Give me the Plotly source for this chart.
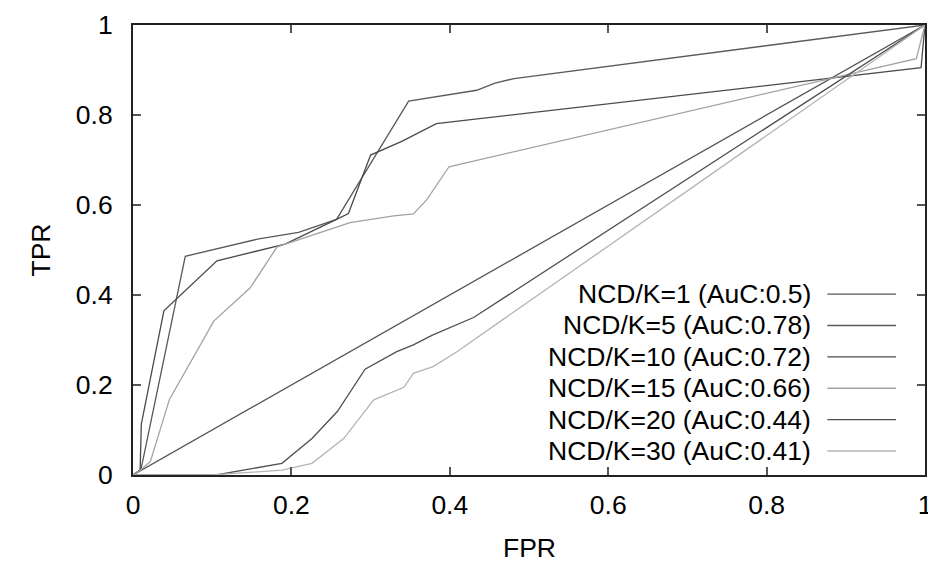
import plotly.graph_objects as go

# ---- data ----
names = ["NCD/K=1 (AuC:0.5)", "NCD/K=5 (AuC:0.78)", "NCD/K=10 (AuC:0.72)",
         "NCD/K=15 (AuC:0.66)", "NCD/K=20 (AuC:0.44)", "NCD/K=30 (AuC:0.41)"]

k1_x = [0, 1]
k1_y = [0, 1]

k5_x = [0, 0.01, 0.066, 0.157, 0.209, 0.257, 0.348, 0.434, 0.457, 0.481, 1]
k5_y = [0, 0.012, 0.486, 0.524, 0.539, 0.568, 0.831, 0.855, 0.871, 0.881, 1]

k10_x = [0, 0.009, 0.0105, 0.039, 0.106, 0.192, 0.257, 0.272, 0.300, 0.340, 0.383, 0.995, 1]
k10_y = [0, 0.011, 0.113, 0.365, 0.476, 0.513, 0.568, 0.581, 0.711, 0.742, 0.781, 0.905, 1]

k15_x = [0, 0.009, 0.022, 0.046, 0.102, 0.148, 0.182, 0.274, 0.329, 0.354, 0.371, 0.399, 0.989, 1]
k15_y = [0, 0.010, 0.030, 0.168, 0.342, 0.416, 0.507, 0.561, 0.576, 0.580, 0.612, 0.685, 0.925, 1]

k20_x = [0, 0.105, 0.188, 0.226, 0.258, 0.293, 0.333, 0.354, 0.378, 0.430, 1]
k20_y = [0, 0.0, 0.026, 0.081, 0.141, 0.235, 0.274, 0.289, 0.311, 0.350, 1]

k30_x = [0, 0.100, 0.188, 0.226, 0.266, 0.304, 0.342, 0.354, 0.379, 0.409, 1]
k30_y = [0, 0.0, 0.011, 0.026, 0.081, 0.167, 0.195, 0.226, 0.241, 0.274, 1]

tick_vals = [0, 0.2, 0.4, 0.6, 0.8, 1]
tick_text = ["0", "0.2", "0.4", "0.6", "0.8", "1"]

# ---- styling ----
colors = ["#555555", "#595959", "#4a4a4a", "#a2a2a2", "#505050", "#b4b4b4"]
FONT = "Liberation Sans, Arial, sans-serif"
FS = 26.5

series = [(k1_x, k1_y), (k5_x, k5_y), (k10_x, k10_y),
          (k15_x, k15_y), (k20_x, k20_y), (k30_x, k30_y)]

fig = go.Figure()
for (xs, ys), nm, c in zip(series, names, colors):
    fig.add_trace(go.Scatter(x=xs, y=ys, mode="lines", name=nm,
                             line=dict(color=c, width=1.3), showlegend=False))

L, R, T, B = 132.5, 3, 24.7, 88
W, H = 928, 563
pw, ph = W - L - R, H - T - B

axis_common = dict(range=[0, 1], tickvals=tick_vals, ticktext=tick_text,
                   ticks="inside", ticklen=8, tickwidth=1.5, tickcolor="#555555",
                   showline=True, linecolor="#222222", linewidth=2, mirror="ticks",
                   showgrid=False, zeroline=False, ticklabeloverflow="allow",
                   automargin=False,
                   tickfont=dict(family=FONT, size=FS, color="#000000"))

fig.update_layout(
    width=W, height=H,
    margin=dict(l=L, r=R, t=T, b=B, pad=0, autoexpand=False),
    paper_bgcolor="white", plot_bgcolor="white",
    xaxis=dict(**axis_common, ticklabelstandoff=5),
    yaxis=dict(**axis_common, ticklabelstandoff=13),
    showlegend=False,
)

# axis titles
fig.add_annotation(text="FPR", xref="paper", yref="paper", x=0.5, y=-(548 - (T + ph)) / ph,
                   xanchor="center", yanchor="middle", showarrow=False,
                   font=dict(family=FONT, size=FS, color="#000000"))
fig.add_annotation(text="TPR", xref="paper", yref="paper", x=-(L - 40) / pw, y=0.5,
                   xanchor="center", yanchor="middle", showarrow=False, textangle=-90,
                   font=dict(family=FONT, size=FS, color="#000000"))

# legend (gnuplot style: right-aligned text, sample line on the right)
text_right = (813 - L) / pw
s0, s1 = (827.3 - L) / pw, (896 - L) / pw
for i, (nm, c) in enumerate(zip(names, colors)):
    py = 294 + 31.4 * i
    yp = (T + ph - py) / ph
    fig.add_annotation(text=nm, xref="paper", yref="paper", x=text_right, y=yp,
                       xanchor="right", yanchor="middle", showarrow=False,
                       font=dict(family=FONT, size=FS, color="#000000"))
    fig.add_shape(type="line", xref="paper", yref="paper", x0=s0, x1=s1, y0=yp, y1=yp,
                  line=dict(color=c, width=1.3))

fig.write_html("out.html")
